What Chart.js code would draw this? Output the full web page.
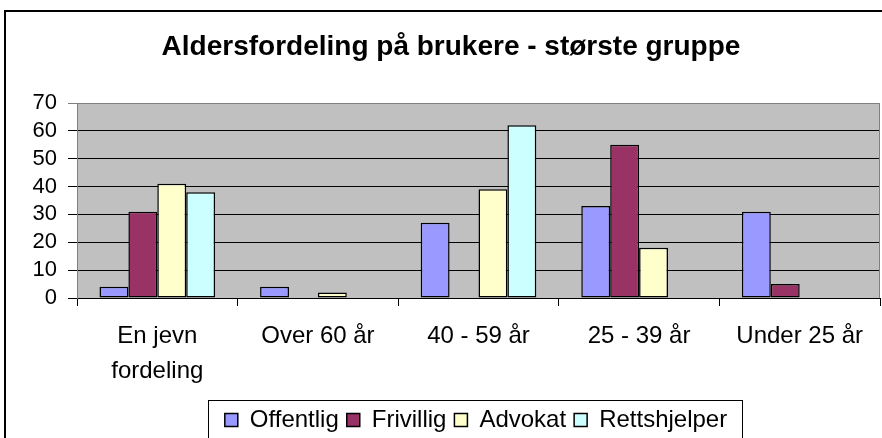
<!DOCTYPE html>
<html>
<head>
<meta charset="utf-8">
<script src="https://cdn.jsdelivr.net/npm/chart.js@4"></script>
<style>
  html, body { margin: 0; padding: 0; overflow: hidden; background: #fff; }
  canvas { display: block; }
</style>
</head>
<body>
<canvas id="barChart" width="882" height="442"></canvas>
<script>
const categories = [['En jevn', 'fordeling'], 'Over 60 år', '40 - 59 år', '25 - 39 år', 'Under 25 år'];
const offentlig = [4, 4, 27, 33, 31];
const frivillig = [31, 0, 0, 55, 5];
const advokat = [41, 2, 39, 18, 0];
const rettshjelper = [38, 0, 62, 0, 0];
const yMax = 70;
const yStep = 10;

const font = 'Liberation Sans, Arial, sans-serif';

// gray plot area, outer frame and the box round the legend
const excelLook = {
  id: 'excelLook',
  afterLayout(chart) {
    // the original frame is wider than the picture, so title and legend sit right of centre
    chart.titleBlock.left += 22;
    chart.legend.left += 72;
    if (chart.legend.adjustHitBoxes) chart.legend.adjustHitBoxes();
  },
  beforeDraw(chart) {
    const { ctx, chartArea: a } = chart;
    ctx.save();
    ctx.fillStyle = '#fff';
    ctx.fillRect(0, 0, chart.width, chart.height);
    ctx.fillStyle = '#C0C0C0';
    ctx.fillRect(a.left, a.top, a.right - a.left, a.bottom - a.top);
    ctx.restore();
  },
  afterDraw(chart) {
    const { ctx, chartArea: a } = chart;
    ctx.save();
    ctx.strokeStyle = '#808080';
    ctx.lineWidth = 1;
    ctx.beginPath();
    ctx.moveTo(a.left, a.top + 0.5);
    ctx.lineTo(a.right - 0.5, a.top + 0.5);
    ctx.lineTo(a.right - 0.5, a.bottom);
    ctx.stroke();

    ctx.strokeStyle = '#000';
    ctx.lineWidth = 2;
    ctx.strokeRect(5, 11, 1000, 1000);

    const boxes = chart.legend.legendHitBoxes;
    if (boxes.length) {
      const first = boxes[0], last = boxes[boxes.length - 1];
      const left = Math.round(first.left) - 16.5;
      const right = Math.round(last.left + last.width) + 15.5;
      ctx.lineWidth = 1;
      ctx.strokeStyle = '#000';
      ctx.strokeRect(left, 400.5, right - left, 100);
    }
    ctx.restore();
  }
};

const ctx = document.getElementById('barChart').getContext('2d');

const barChart = new Chart(ctx, {
  type: 'bar',
  data: {
    labels: categories,
    datasets: [
      { label: 'Offentlig', data: offentlig, backgroundColor: '#9999FF' },
      { label: 'Frivillig', data: frivillig, backgroundColor: '#993366' },
      { label: 'Advokat', data: advokat, backgroundColor: '#FFFFCC' },
      { label: 'Rettshjelper', data: rettshjelper, backgroundColor: '#CCFFFF' }
    ].map(d => Object.assign(d, {
      borderColor: '#000',
      borderWidth: 1.5,
      borderSkipped: false,
      categoryPercentage: 0.72,
      barPercentage: 1
    }))
  },
  options: {
    responsive: false,
    animation: false,
    layout: { padding: { left: 0, right: 2, top: 0, bottom: 0 } },
    plugins: {
      tooltip: { enabled: false },
      title: {
        display: true,
        text: 'Aldersfordeling på brukere - største gruppe',
        color: '#000',
        font: { family: font, size: 28, weight: 'bold', lineHeight: 1.2 },
        padding: { top: 30.7, bottom: 38.7 }
      },
      legend: {
        position: 'bottom',
        labels: {
          color: '#000',
          font: { family: font, size: 24 },
          boxWidth: 13,
          boxHeight: 13,
          padding: 8
        }
      }
    },
    scales: {
      x: {
        afterFit(scale) { scale.height = 102; },
        border: { display: true, color: '#000', width: 1 },
        grid: {
          offset: true,
          drawOnChartArea: false,
          drawTicks: true,
          tickLength: 8,
          color: '#000'
        },
        ticks: {
          color: '#000',
          padding: 13,
          maxRotation: 0,
          autoSkip: false,
          font: { family: font, size: 24, lineHeight: 1.46 }
        }
      },
      y: {
        min: 0,
        max: yMax,
        afterFit(scale) { scale.width = 77; },
        border: { display: true, color: '#808080', width: 1 },
        grid: {
          color: c => (c.tick && c.tick.value === yMax ? '#808080' : '#000'),
          tickLength: 9,
          lineWidth: 1
        },
        ticks: {
          stepSize: yStep,
          autoSkip: false,
          color: '#000',
          padding: 11,
          font: { family: font, size: 22 }
        }
      }
    }
  },
  plugins: [excelLook]
});
</script>
</body>
</html>
